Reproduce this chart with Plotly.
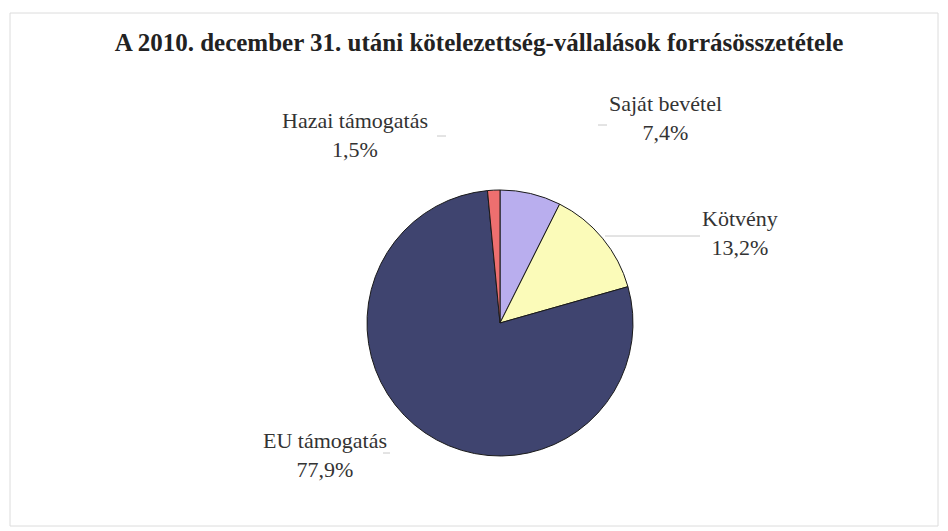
import plotly.graph_objects as go

title = "A 2010. december 31. utáni kötelezettség-vállalások forrásösszetétele"
categories = ["Saját bevétel", "Kötvény", "EU támogatás", "Hazai támogatás"]
values = [7.4, 13.2, 77.9, 1.5]
colors = ["#b9aeee", "#fbfbb9", "#3f446f", "#ee6f6f"]

W, H = 948, 531
OFF = 8  # page offset of the plot in the browser


def px(x):
    return (x - OFF) / W


def py(y):
    return 1 - (y - OFF) / H


fig = go.Figure()
fig.add_trace(go.Pie(
    labels=categories,
    values=values,
    sort=False,
    direction="clockwise",
    rotation=0,
    marker=dict(colors=colors, line=dict(color="#1a1a1a", width=1)),
    textinfo="none",
    hoverinfo="label+percent",
    showlegend=False,
    domain=dict(x=[px(500 - 133), px(500 + 133)], y=[py(456), py(190)]),
))

# label positions (pixel coordinates of text centres)
label_pos = {
    "Hazai támogatás": (355, 135),
    "Saját bevétel": (665, 118),
    "Kötvény": (740, 233),
    "EU támogatás": (325, 455),
}
for cat, v in zip(categories, values):
    x, y = label_pos[cat]
    txt = f"{cat}<br>{v:.1f}".replace(".", ",") + "%"
    fig.add_annotation(
        x=px(x), y=py(y), xref="paper", yref="paper",
        text=txt, showarrow=False, align="center",
        font=dict(family="Liberation Serif", size=22, color="#333333"),
        xanchor="center", yanchor="middle",
    )

# faint leader lines
leaders = [(437, 136, 446, 136), (598, 125, 607, 125), (605, 236, 700, 236), (383, 453, 390, 453)]
for x0, y0, x1, y1 in leaders:
    fig.add_shape(type="line", xref="paper", yref="paper",
                  x0=px(x0), x1=px(x1), y0=py(y0), y1=py(y1),
                  line=dict(color="#c8c8c8", width=1))

# outer chart border
fig.add_shape(type="rect", xref="paper", yref="paper",
              x0=px(10), x1=px(938), y0=py(526), y1=py(13),
              line=dict(color="#dcdcdc", width=1))

fig.update_layout(
    width=W, height=H,
    margin=dict(l=0, r=0, t=0, b=0),
    paper_bgcolor="white",
    title=dict(text=f"<b>{title}</b>", x=px(479), xanchor="center",
               y=py(42), yanchor="middle",
               font=dict(family="Liberation Serif", size=25, color="#222222")),
)

fig.write_html("out.html")
